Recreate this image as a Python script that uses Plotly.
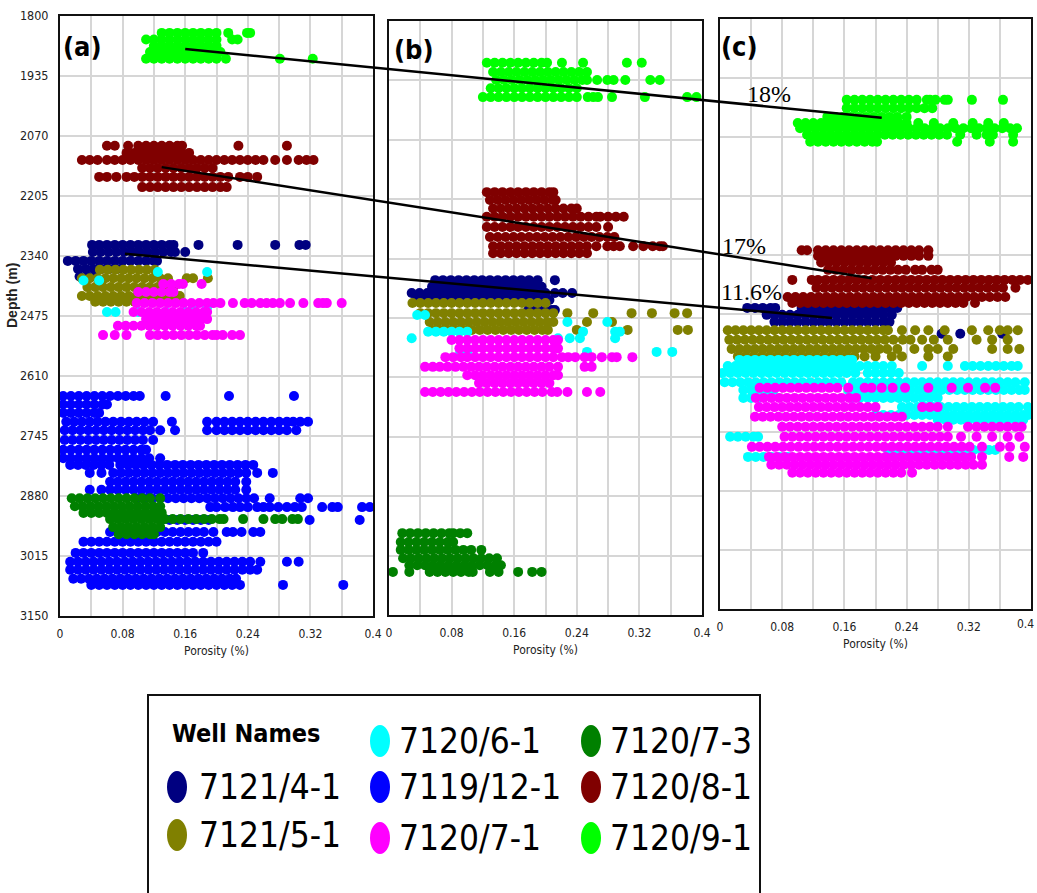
import plotly.graph_objects as go

W, H = 1037, 893

WELLS = ["7121/4-1", "7121/5-1", "7120/6-1", "7119/12-1",
         "7120/7-1", "7120/7-3", "7120/8-1", "7120/9-1"]
COLORS = ["#000080", "#808000", "#00FFFF", "#0000FF",
          "#FF00FF", "#008000", "#800000", "#00FF00"]

X_TICKS = [0, 0.04, 0.08, 0.12, 0.16, 0.2, 0.24, 0.28, 0.32, 0.36, 0.4]
X_TICK_TEXT = ["0", "", "0.08", "", "0.16", "", "0.24", "", "0.32", "", "0.4"]
Y_TICKS = [1800, 1935, 2070, 2205, 2340, 2475, 2610, 2745, 2880, 3015, 3150]

# ---------------- panel (a): rows of (depth, [porosity values]) ----------------
A_41 = [
    (2315, [0.041, 0.05, 0.06, 0.07, 0.08, 0.09, 0.10, 0.11, 0.12, 0.13, 0.14, 0.145, 0.177, 0.227, 0.275, 0.306, 0.314]),
    (2331, [0.042, 0.052, 0.062, 0.072, 0.082, 0.092, 0.102, 0.112, 0.122, 0.132, 0.142, 0.147, 0.16]),
    (2351, [0.01, 0.02, 0.03, 0.04, 0.05, 0.06, 0.07, 0.08, 0.09, 0.10, 0.11, 0.12, 0.124]),
    (2369, [0.023, 0.033, 0.043, 0.053, 0.063, 0.073]),
    (2386, [0.025, 0.035, 0.045]),
]
A_51 = [
    (2371, [0.051, 0.061, 0.071, 0.081, 0.091, 0.101, 0.111, 0.121]),
    (2390, [0.028, 0.038, 0.048, 0.058, 0.068, 0.078, 0.088, 0.098, 0.108, 0.118, 0.128, 0.138, 0.162, 0.17, 0.189]),
    (2410, [0.035, 0.045, 0.055, 0.065, 0.075, 0.085, 0.095, 0.105, 0.115, 0.125, 0.135, 0.145]),
    (2430, [0.028, 0.038, 0.048, 0.058, 0.068, 0.078, 0.088, 0.098, 0.108, 0.118, 0.128, 0.138, 0.148, 0.153]),
    (2443, [0.045, 0.055, 0.065, 0.075, 0.085, 0.095, 0.105, 0.115, 0.125, 0.135, 0.145, 0.155]),
]
A_61 = [
    (2376, [0.125, 0.188]),
    (2395, [0.03, 0.05]),
    (2456, [0.17, 0.188]),
    (2466, [0.06, 0.071, 0.10, 0.135, 0.16]),
]
A_121 = [
    (2655, [0.004, 0.014, 0.024, 0.034, 0.044, 0.054, 0.064, 0.074, 0.084, 0.094, 0.102, 0.135, 0.216, 0.299]),
    (2674, [0.004, 0.014, 0.024, 0.034, 0.044, 0.054, 0.06]),
    (2693, [0.004, 0.014, 0.024, 0.034, 0.044, 0.05]),
    (2713, [0.008, 0.018, 0.028, 0.038, 0.048, 0.058, 0.068, 0.078, 0.088, 0.098, 0.108, 0.119, 0.143, 0.188, 0.2, 0.21, 0.22, 0.23, 0.24, 0.25, 0.26, 0.27, 0.28, 0.29, 0.298, 0.307, 0.317]),
    (2732, [0.006, 0.016, 0.026, 0.036, 0.046, 0.056, 0.066, 0.076, 0.086, 0.096, 0.106, 0.115, 0.128, 0.147, 0.188, 0.2, 0.21, 0.22, 0.23, 0.24, 0.25, 0.26, 0.27, 0.28, 0.29, 0.302]),
    (2754, [0.006, 0.016, 0.026, 0.036, 0.046, 0.056, 0.066, 0.076, 0.086, 0.096, 0.106, 0.119]),
    (2776, [0.004, 0.014, 0.024, 0.034, 0.044, 0.054, 0.064, 0.074, 0.084, 0.094, 0.104, 0.11]),
    (2795, [0.004, 0.014, 0.024, 0.034, 0.044, 0.054, 0.064, 0.074, 0.084, 0.094, 0.104, 0.114, 0.128]),
    (2810, [0.013, 0.023, 0.033, 0.043, 0.053, 0.063, 0.077, 0.087, 0.097, 0.107, 0.117, 0.127, 0.137, 0.147, 0.157, 0.167, 0.177, 0.187, 0.197, 0.207, 0.217, 0.227, 0.237, 0.247]),
    (2828, [0.038, 0.053, 0.068, 0.078, 0.088, 0.098, 0.108, 0.118, 0.128, 0.138, 0.148, 0.158, 0.168, 0.178, 0.188, 0.198, 0.208, 0.218, 0.228, 0.238, 0.252, 0.272]),
    (2848, [0.064, 0.074, 0.084, 0.094, 0.104, 0.114, 0.124, 0.134, 0.144, 0.154, 0.164, 0.174, 0.184, 0.194, 0.204, 0.214, 0.224, 0.238]),
    (2866, [0.038, 0.053, 0.064, 0.074, 0.084, 0.094, 0.104, 0.114, 0.124, 0.134, 0.144, 0.154, 0.164, 0.174, 0.184, 0.194, 0.204, 0.214, 0.224, 0.238]),
    (2885, [0.098, 0.108, 0.118, 0.128, 0.138, 0.148, 0.158, 0.168, 0.178, 0.188, 0.198, 0.208, 0.218, 0.228, 0.238, 0.248, 0.268, 0.307, 0.317]),
    (2905, [0.192, 0.2, 0.211, 0.221, 0.23, 0.24, 0.252, 0.26, 0.268, 0.279, 0.29, 0.3, 0.309, 0.335, 0.348, 0.355, 0.386, 0.396]),
    (2934, [0.13, 0.14, 0.15, 0.16, 0.17, 0.18, 0.19, 0.319, 0.383]),
    (2961, [0.064, 0.074, 0.084, 0.094, 0.104, 0.114, 0.124, 0.134, 0.144, 0.154, 0.164, 0.174, 0.184, 0.196, 0.213, 0.221, 0.232, 0.247, 0.256]),
    (2983, [0.03, 0.04, 0.05, 0.06, 0.07, 0.08, 0.09, 0.10, 0.11, 0.12, 0.13, 0.14, 0.15, 0.16, 0.17, 0.18, 0.19, 0.2]),
    (3008, [0.02, 0.03, 0.04, 0.05, 0.06, 0.07, 0.08, 0.09, 0.10, 0.11, 0.12, 0.13, 0.14, 0.15, 0.16, 0.17, 0.183]),
    (3028, [0.013, 0.023, 0.033, 0.043, 0.053, 0.063, 0.073, 0.083, 0.093, 0.103, 0.113, 0.123, 0.133, 0.143, 0.153, 0.163, 0.173, 0.183, 0.193, 0.203, 0.213, 0.223, 0.233, 0.243, 0.256, 0.29, 0.305]),
    (3046, [0.013, 0.023, 0.033, 0.043, 0.053, 0.063, 0.073, 0.083, 0.093, 0.103, 0.113, 0.123, 0.133, 0.143, 0.153, 0.163, 0.173, 0.183, 0.193, 0.203, 0.213, 0.223, 0.233, 0.243, 0.252]),
    (3066, [0.017, 0.027, 0.037, 0.047, 0.057, 0.067, 0.077, 0.087, 0.097, 0.107, 0.117, 0.127, 0.137, 0.147, 0.157, 0.167, 0.177, 0.187, 0.197, 0.207, 0.217, 0.225]),
    (3080, [0.04, 0.05, 0.06, 0.07, 0.08, 0.09, 0.10, 0.11, 0.12, 0.13, 0.14, 0.15, 0.16, 0.17, 0.18, 0.19, 0.2, 0.21, 0.22, 0.23, 0.285, 0.362]),
]
A_71 = [
    (2403, [0.132, 0.142, 0.152, 0.157, 0.181]),
    (2421, [0.10, 0.11, 0.12, 0.13, 0.14, 0.145]),
    (2446, [0.098, 0.108, 0.118, 0.128, 0.138, 0.148, 0.158, 0.168, 0.178, 0.188, 0.196, 0.205, 0.221, 0.236, 0.245, 0.256, 0.264, 0.272, 0.281, 0.294, 0.311, 0.33, 0.336, 0.341, 0.36]),
    (2466, [0.094, 0.104, 0.114, 0.124, 0.134, 0.144, 0.154, 0.164, 0.174, 0.184, 0.188]),
    (2482, [0.11, 0.12, 0.13, 0.14, 0.15, 0.16, 0.17, 0.18, 0.188]),
    (2497, [0.074, 0.084, 0.094, 0.104, 0.114, 0.124, 0.134, 0.144, 0.154, 0.164, 0.174, 0.179]),
    (2518, [0.055, 0.07, 0.085, 0.115, 0.125, 0.135, 0.145, 0.155, 0.165, 0.175, 0.185, 0.195, 0.2, 0.208, 0.22, 0.23]),
]
A_73 = [
    (2885, [0.015, 0.025, 0.035, 0.045, 0.055, 0.065, 0.075, 0.085, 0.095, 0.105, 0.115, 0.128]),
    (2903, [0.019, 0.029, 0.039, 0.049, 0.059, 0.069, 0.079, 0.089, 0.099, 0.109, 0.119, 0.128]),
    (2918, [0.03, 0.04, 0.05, 0.06, 0.07, 0.08, 0.09, 0.10, 0.11, 0.12, 0.13]),
    (2932, [0.064, 0.074, 0.084, 0.094, 0.104, 0.114, 0.124, 0.134, 0.144, 0.154, 0.164, 0.174, 0.184, 0.194, 0.204, 0.209, 0.234, 0.26, 0.275, 0.284, 0.297, 0.304]),
    (2950, [0.068, 0.078, 0.088, 0.098, 0.108, 0.118, 0.128]),
    (2966, [0.075, 0.085, 0.095, 0.105, 0.115, 0.12]),
]
A_81 = [
    (2092, [0.06, 0.07, 0.087, 0.10, 0.11, 0.12, 0.13, 0.14, 0.15, 0.156, 0.228, 0.29]),
    (2108, [0.085, 0.095, 0.105, 0.115, 0.125, 0.135, 0.145, 0.155, 0.165]),
    (2124, [0.028, 0.038, 0.048, 0.06, 0.07, 0.08, 0.09, 0.10, 0.11, 0.12, 0.13, 0.14, 0.15, 0.16, 0.17, 0.18, 0.19, 0.20, 0.21, 0.22, 0.23, 0.24, 0.25, 0.26, 0.275, 0.29, 0.305, 0.315, 0.324]),
    (2142, [0.105, 0.115, 0.125, 0.135, 0.145, 0.155, 0.165, 0.175, 0.185, 0.195]),
    (2162, [0.05, 0.06, 0.072, 0.085, 0.095, 0.105, 0.115, 0.125, 0.135, 0.145, 0.155, 0.165, 0.175, 0.185, 0.195, 0.205, 0.215, 0.23, 0.24, 0.252]),
    (2185, [0.105, 0.115, 0.125, 0.135, 0.145, 0.155, 0.165, 0.175, 0.185, 0.195, 0.205, 0.213]),
]
A_91 = [
    (1838, [0.13, 0.14, 0.15, 0.16, 0.17, 0.18, 0.19, 0.20, 0.215, 0.239, 0.243]),
    (1853, [0.11, 0.12, 0.13, 0.14, 0.15, 0.16, 0.17, 0.18, 0.19, 0.20, 0.22, 0.227]),
    (1867, [0.12, 0.13, 0.14, 0.15, 0.16, 0.17, 0.18, 0.19, 0.20]),
    (1881, [0.115, 0.125, 0.135, 0.145, 0.155, 0.165, 0.175, 0.185, 0.195, 0.205]),
    (1896, [0.11, 0.12, 0.13, 0.14, 0.15, 0.16, 0.17, 0.18, 0.19, 0.20, 0.212, 0.281, 0.323]),
]

# ---------------- panel (b) ----------------
B_41 = [
    (2389, [0.059, 0.069, 0.079, 0.089, 0.099, 0.109, 0.119, 0.129, 0.139, 0.149, 0.159, 0.169, 0.179, 0.19, 0.212]),
    (2404, [0.055, 0.065, 0.075, 0.085, 0.095, 0.105, 0.115, 0.125, 0.135, 0.145, 0.155, 0.165, 0.175, 0.185, 0.195]),
    (2418, [0.029, 0.039, 0.049, 0.059, 0.069, 0.079, 0.089, 0.099, 0.109, 0.119, 0.129, 0.139, 0.149, 0.159, 0.169, 0.179, 0.189, 0.2, 0.212, 0.222, 0.234]),
    (2434, [0.035, 0.045, 0.055, 0.065, 0.075, 0.085, 0.095, 0.105, 0.115, 0.125, 0.135, 0.145, 0.155, 0.165, 0.175, 0.185, 0.195, 0.205]),
    (2457, [0.178, 0.188, 0.198, 0.208, 0.212]),
]
B_51 = [
    (2441, [0.03, 0.04, 0.05, 0.06, 0.07, 0.08, 0.09, 0.10, 0.11, 0.12, 0.13, 0.14, 0.15, 0.16, 0.17, 0.18, 0.19, 0.2]),
    (2464, [0.04, 0.05, 0.06, 0.07, 0.08, 0.09, 0.10, 0.11, 0.12, 0.13, 0.14, 0.15, 0.16, 0.17, 0.18, 0.19, 0.2, 0.21, 0.228, 0.261, 0.31, 0.336, 0.365, 0.381]),
    (2484, [0.052, 0.062, 0.072, 0.082, 0.092, 0.102, 0.112, 0.122, 0.132, 0.142, 0.152, 0.162, 0.172, 0.182, 0.192, 0.202, 0.21, 0.253, 0.285]),
    (2502, [0.056, 0.066, 0.076, 0.086, 0.096, 0.106, 0.116, 0.126, 0.136, 0.146, 0.156, 0.166, 0.176, 0.186, 0.196, 0.203, 0.24, 0.305, 0.369, 0.382]),
]
B_61 = [
    (2468, [0.036, 0.046]),
    (2484, [0.228, 0.279]),
    (2506, [0.05, 0.06, 0.07, 0.08, 0.09, 0.10, 0.248, 0.289, 0.295]),
    (2521, [0.029, 0.216, 0.231, 0.244, 0.289]),
    (2552, [0.091, 0.10, 0.253, 0.342, 0.362]),
]
B_71 = [
    (2525, [0.08, 0.09, 0.10, 0.11, 0.12, 0.13, 0.14, 0.15, 0.16, 0.17, 0.18, 0.19, 0.20, 0.21, 0.216]),
    (2544, [0.09, 0.10, 0.11, 0.12, 0.13, 0.14, 0.15, 0.16, 0.17, 0.18, 0.19, 0.20, 0.21, 0.216]),
    (2564, [0.072, 0.082, 0.092, 0.10, 0.11, 0.12, 0.13, 0.14, 0.15, 0.16, 0.17, 0.18, 0.19, 0.20, 0.21, 0.221, 0.229, 0.238, 0.25, 0.259, 0.272, 0.285, 0.291, 0.311]),
    (2586, [0.046, 0.056, 0.065, 0.075, 0.085, 0.095, 0.105, 0.115, 0.125, 0.135, 0.145, 0.155, 0.165, 0.175, 0.185, 0.195, 0.205, 0.216, 0.25, 0.259]),
    (2605, [0.10, 0.11, 0.12, 0.13, 0.14, 0.15, 0.16, 0.17, 0.18, 0.19, 0.20, 0.21, 0.216]),
    (2623, [0.115, 0.125, 0.135, 0.145, 0.155, 0.165, 0.175, 0.185, 0.195, 0.205]),
    (2643, [0.046, 0.056, 0.066, 0.076, 0.086, 0.096, 0.106, 0.116, 0.126, 0.136, 0.146, 0.156, 0.166, 0.176, 0.186, 0.196, 0.208, 0.215, 0.228, 0.253, 0.27]),
]
B_73 = [
    (2964, [0.017, 0.027, 0.037, 0.047, 0.057, 0.067, 0.077, 0.082, 0.091, 0.10]),
    (2984, [0.015, 0.025, 0.035, 0.045, 0.055, 0.065, 0.075, 0.082]),
    (3002, [0.015, 0.025, 0.035, 0.045, 0.055, 0.065, 0.075, 0.085, 0.095, 0.105, 0.118]),
    (3021, [0.018, 0.028, 0.038, 0.048, 0.058, 0.068, 0.078, 0.088, 0.098, 0.108, 0.118, 0.128, 0.138]),
    (3037, [0.026, 0.036, 0.046, 0.056, 0.066, 0.076, 0.086, 0.096, 0.106, 0.116, 0.126, 0.136, 0.143]),
    (3052, [0.005, 0.026, 0.052, 0.062, 0.072, 0.082, 0.092, 0.102, 0.107, 0.129, 0.14, 0.165, 0.183, 0.195]),
]
B_81 = [
    (2189, [0.125, 0.135, 0.145, 0.155, 0.165, 0.175, 0.185, 0.195, 0.205, 0.21]),
    (2207, [0.129, 0.139, 0.149, 0.159, 0.169, 0.179, 0.189, 0.199, 0.209, 0.213]),
    (2226, [0.133, 0.143, 0.153, 0.163, 0.173, 0.183, 0.193, 0.203, 0.213, 0.223, 0.233, 0.24]),
    (2245, [0.125, 0.135, 0.145, 0.155, 0.165, 0.175, 0.185, 0.195, 0.205, 0.215, 0.225, 0.235, 0.245, 0.255, 0.265, 0.27, 0.28, 0.29, 0.30]),
    (2268, [0.125, 0.135, 0.145, 0.155, 0.165, 0.175, 0.185, 0.195, 0.205, 0.215, 0.225, 0.235, 0.245, 0.255, 0.265, 0.28]),
    (2291, [0.129, 0.139, 0.149, 0.159, 0.169, 0.179, 0.189, 0.199, 0.209, 0.219, 0.229, 0.239, 0.249, 0.259, 0.269, 0.279, 0.288]),
    (2312, [0.133, 0.143, 0.153, 0.163, 0.173, 0.183, 0.193, 0.203, 0.213, 0.223, 0.233, 0.243, 0.253, 0.265, 0.279, 0.287, 0.295, 0.312, 0.325, 0.337, 0.346, 0.35]),
    (2328, [0.133, 0.143, 0.153, 0.163, 0.173, 0.183, 0.193, 0.203, 0.213, 0.223, 0.233, 0.243, 0.253]),
]
B_91 = [
    (1895, [0.125, 0.135, 0.145, 0.155, 0.165, 0.175, 0.185, 0.195, 0.202, 0.221, 0.248, 0.304, 0.323]),
    (1916, [0.133, 0.143, 0.153, 0.163, 0.173, 0.183, 0.193, 0.203, 0.213, 0.223, 0.233, 0.243, 0.253]),
    (1934, [0.137, 0.147, 0.157, 0.167, 0.177, 0.187, 0.197, 0.207, 0.217, 0.227, 0.237, 0.247, 0.253, 0.266, 0.279, 0.287, 0.302, 0.334, 0.346]),
    (1953, [0.13, 0.14, 0.15, 0.16, 0.17, 0.18, 0.19, 0.2, 0.21, 0.22, 0.23, 0.24]),
    (1973, [0.12, 0.13, 0.14, 0.15, 0.16, 0.17, 0.18, 0.19, 0.2, 0.21, 0.22, 0.23, 0.24, 0.254, 0.261, 0.267, 0.285, 0.327, 0.381, 0.393]),
]

# ---------------- panel (c) ----------------
C_41 = [
    (2461, [0.035, 0.045, 0.055, 0.065, 0.071, 0.105, 0.115, 0.125, 0.135, 0.145, 0.155, 0.165, 0.175, 0.185, 0.195, 0.205, 0.215, 0.221, 0.228]),
    (2477, [0.06, 0.07, 0.08, 0.09, 0.10, 0.11, 0.12, 0.13, 0.14, 0.15, 0.16, 0.17, 0.18, 0.19, 0.20, 0.21, 0.221]),
    (2493, [0.07, 0.08, 0.09, 0.10, 0.11, 0.12, 0.13, 0.14, 0.15, 0.16, 0.17, 0.18, 0.19, 0.20, 0.21, 0.218]),
    (2520, [0.285, 0.309, 0.363]),
]
C_51 = [
    (2512, [0.01, 0.02, 0.03, 0.04, 0.05, 0.06, 0.07, 0.08, 0.09, 0.10, 0.11, 0.12, 0.13, 0.14, 0.15, 0.16, 0.17, 0.18, 0.19, 0.2, 0.21, 0.216, 0.234, 0.251, 0.268, 0.289, 0.324, 0.345, 0.36, 0.37, 0.383]),
    (2534, [0.012, 0.022, 0.032, 0.042, 0.052, 0.062, 0.072, 0.082, 0.092, 0.102, 0.112, 0.122, 0.132, 0.142, 0.152, 0.162, 0.172, 0.182, 0.192, 0.202, 0.212, 0.223, 0.235, 0.245, 0.26, 0.275, 0.293, 0.33, 0.35, 0.37]),
    (2555, [0.015, 0.025, 0.035, 0.045, 0.055, 0.065, 0.075, 0.085, 0.095, 0.105, 0.115, 0.125, 0.135, 0.145, 0.155, 0.165, 0.175, 0.185, 0.195, 0.205, 0.215, 0.228, 0.25, 0.268, 0.28, 0.3, 0.35, 0.37, 0.385]),
    (2572, [0.023, 0.033, 0.043, 0.053, 0.063, 0.073, 0.083, 0.093, 0.103, 0.113, 0.123, 0.133, 0.143, 0.153, 0.163, 0.173, 0.186, 0.2, 0.221, 0.234, 0.268, 0.293]),
]
C_61 = [
    (2580, [0.025, 0.035, 0.045, 0.055, 0.065, 0.075, 0.085, 0.095, 0.105, 0.115, 0.125, 0.135, 0.145, 0.155, 0.165, 0.17]),
    (2594, [0.01, 0.02, 0.03, 0.04, 0.05, 0.06, 0.07, 0.08, 0.09, 0.10, 0.11, 0.12, 0.13, 0.14, 0.15, 0.16, 0.17, 0.18, 0.19, 0.2, 0.21, 0.221, 0.26, 0.293, 0.315, 0.325, 0.335, 0.345, 0.355, 0.365, 0.375, 0.383]),
    (2610, [0.003, 0.013, 0.023, 0.033, 0.043, 0.053, 0.063, 0.073, 0.083, 0.093, 0.103, 0.113, 0.123, 0.133, 0.143, 0.153, 0.163, 0.174, 0.19, 0.2, 0.21, 0.22, 0.23]),
    (2631, [0.006, 0.016, 0.026, 0.036, 0.046, 0.056, 0.066, 0.076, 0.086, 0.096, 0.106, 0.116, 0.126, 0.136, 0.146, 0.156, 0.171, 0.18, 0.19, 0.2, 0.21, 0.22, 0.23, 0.24, 0.25, 0.26, 0.27, 0.28, 0.29, 0.3, 0.31, 0.32, 0.33, 0.34, 0.35, 0.36, 0.37, 0.38, 0.392]),
    (2649, [0.03, 0.04, 0.05, 0.06, 0.069, 0.165, 0.175, 0.185, 0.195, 0.205, 0.215, 0.225, 0.235, 0.245, 0.255, 0.265, 0.275, 0.285, 0.295, 0.305, 0.315, 0.325, 0.335, 0.345, 0.355, 0.365, 0.375, 0.385, 0.392]),
    (2667, [0.03, 0.04, 0.05, 0.17, 0.18, 0.19, 0.2, 0.21, 0.22, 0.23, 0.24, 0.25, 0.26, 0.27, 0.28]),
    (2688, [0.234, 0.244, 0.254, 0.264, 0.274, 0.284, 0.294, 0.304, 0.314, 0.324, 0.334, 0.344, 0.354, 0.364, 0.374, 0.384, 0.396]),
    (2706, [0.2, 0.21, 0.22, 0.23, 0.24, 0.25, 0.26, 0.27, 0.28, 0.29, 0.3, 0.31, 0.32, 0.33, 0.34, 0.35, 0.36, 0.37, 0.38, 0.39, 0.396]),
    (2717, [0.28, 0.29, 0.3, 0.31, 0.32, 0.33, 0.34, 0.35, 0.36, 0.37, 0.38, 0.39]),
    (2756, [0.013, 0.023, 0.033, 0.043, 0.049]),
    (2786, [0.216, 0.226, 0.236, 0.246, 0.256, 0.266, 0.276, 0.286, 0.296, 0.306, 0.316, 0.326, 0.336, 0.346, 0.354]),
    (2802, [0.036, 0.046, 0.056, 0.066, 0.076, 0.087]),
]
C_71 = [
    (2644, [0.051, 0.061, 0.071, 0.081, 0.091, 0.101, 0.111, 0.121, 0.131, 0.141, 0.151, 0.165, 0.186, 0.195, 0.208, 0.222, 0.238, 0.268, 0.298, 0.319, 0.341, 0.354]),
    (2667, [0.046, 0.056, 0.066, 0.076, 0.086, 0.096, 0.106, 0.116, 0.126, 0.136, 0.146, 0.156, 0.166, 0.175]),
    (2688, [0.05, 0.06, 0.07, 0.08, 0.09, 0.10, 0.11, 0.12, 0.13, 0.14, 0.15, 0.16, 0.17, 0.18, 0.19, 0.2, 0.26, 0.27, 0.28]),
    (2710, [0.045, 0.055, 0.065, 0.075, 0.085, 0.095, 0.105, 0.115, 0.125, 0.135, 0.145, 0.155, 0.165, 0.175, 0.185, 0.195, 0.205, 0.215, 0.225, 0.234]),
    (2733, [0.08, 0.09, 0.10, 0.11, 0.12, 0.13, 0.14, 0.15, 0.16, 0.17, 0.18, 0.19, 0.2, 0.21, 0.22, 0.23, 0.24, 0.25, 0.26, 0.27, 0.28, 0.293, 0.319, 0.33, 0.34, 0.35, 0.36, 0.37, 0.38, 0.388]),
    (2756, [0.083, 0.093, 0.103, 0.113, 0.123, 0.133, 0.143, 0.153, 0.163, 0.173, 0.183, 0.193, 0.203, 0.213, 0.223, 0.233, 0.243, 0.253, 0.263, 0.273, 0.283, 0.293, 0.31, 0.33, 0.35, 0.37, 0.385]),
    (2779, [0.041, 0.051, 0.061, 0.071, 0.081, 0.091, 0.101, 0.111, 0.121, 0.131, 0.141, 0.151, 0.161, 0.171, 0.181, 0.191, 0.201, 0.211, 0.221, 0.231, 0.241, 0.251, 0.261, 0.271, 0.281, 0.291, 0.301, 0.311, 0.321, 0.337, 0.36, 0.373, 0.392]),
    (2802, [0.063, 0.073, 0.083, 0.093, 0.103, 0.113, 0.123, 0.133, 0.143, 0.153, 0.163, 0.173, 0.183, 0.193, 0.203, 0.213, 0.223, 0.233, 0.243, 0.253, 0.263, 0.273, 0.283, 0.293, 0.303, 0.313, 0.323, 0.337, 0.372, 0.39]),
    (2820, [0.066, 0.076, 0.086, 0.096, 0.106, 0.116, 0.126, 0.136, 0.146, 0.156, 0.166, 0.176, 0.186, 0.196, 0.206, 0.216, 0.226, 0.236, 0.246, 0.256, 0.266, 0.276, 0.286, 0.296, 0.306, 0.316, 0.326, 0.337]),
    (2838, [0.093, 0.103, 0.113, 0.123, 0.133, 0.143, 0.153, 0.163, 0.173, 0.183, 0.193, 0.203, 0.213, 0.223, 0.233, 0.247]),
]
C_81 = [
    (2329, [0.105, 0.112, 0.126, 0.136, 0.146, 0.156, 0.166, 0.176, 0.186, 0.196, 0.206, 0.216, 0.226, 0.236, 0.246, 0.256, 0.268]),
    (2342, [0.126, 0.136, 0.146, 0.156, 0.166, 0.176, 0.186, 0.196, 0.206, 0.216, 0.226, 0.236, 0.246, 0.256, 0.268]),
    (2357, [0.13, 0.14, 0.15, 0.16, 0.17, 0.18, 0.19, 0.2, 0.21, 0.22]),
    (2374, [0.139, 0.149, 0.159, 0.169, 0.179, 0.189, 0.199, 0.209, 0.219, 0.229, 0.239, 0.251, 0.26, 0.272, 0.28]),
    (2397, [0.093, 0.118, 0.126, 0.136, 0.146, 0.156, 0.166, 0.176, 0.186, 0.196, 0.206, 0.216, 0.226, 0.236, 0.246, 0.256, 0.266, 0.276, 0.286, 0.296, 0.306, 0.316, 0.326, 0.336, 0.346, 0.356, 0.366, 0.376, 0.386, 0.396]),
    (2415, [0.124, 0.134, 0.144, 0.154, 0.164, 0.174, 0.184, 0.194, 0.204, 0.214, 0.224, 0.234, 0.244, 0.254, 0.264, 0.274, 0.284, 0.294, 0.304, 0.314, 0.324, 0.334, 0.344, 0.354, 0.364, 0.38]),
    (2436, [0.087, 0.097, 0.107, 0.117, 0.127, 0.137, 0.147, 0.157, 0.167, 0.177, 0.187, 0.197, 0.207, 0.217, 0.227, 0.237, 0.247, 0.257, 0.267, 0.277, 0.287, 0.297, 0.307, 0.317, 0.327, 0.337, 0.347, 0.357, 0.367]),
    (2450, [0.093, 0.103, 0.113, 0.123, 0.133, 0.143, 0.153, 0.163, 0.173, 0.183, 0.193, 0.203, 0.213, 0.223, 0.233, 0.243, 0.253, 0.263, 0.273, 0.283, 0.293, 0.303, 0.313, 0.328]),
]
C_91 = [
    (1985, [0.163, 0.173, 0.183, 0.193, 0.203, 0.213, 0.223, 0.233, 0.243, 0.253, 0.266, 0.27, 0.277, 0.289, 0.293, 0.324, 0.364]),
    (2004, [0.163, 0.173, 0.183, 0.193, 0.203, 0.213, 0.223, 0.233, 0.243, 0.253, 0.263, 0.273]),
    (2024, [0.138, 0.148, 0.158, 0.168, 0.178, 0.188, 0.198, 0.208, 0.218, 0.228, 0.24]),
    (2038, [0.10, 0.11, 0.12, 0.13, 0.14, 0.15, 0.16, 0.17, 0.18, 0.19, 0.20, 0.21, 0.22, 0.23, 0.24, 0.255, 0.275, 0.30, 0.325, 0.345, 0.365]),
    (2050, [0.103, 0.113, 0.123, 0.133, 0.143, 0.153, 0.163, 0.173, 0.183, 0.193, 0.203, 0.213, 0.223, 0.233, 0.243, 0.253, 0.263, 0.273, 0.283, 0.293, 0.303, 0.313, 0.323, 0.333, 0.343, 0.353, 0.363, 0.373, 0.382]),
    (2065, [0.112, 0.122, 0.132, 0.142, 0.152, 0.162, 0.172, 0.182, 0.192, 0.202, 0.212, 0.222, 0.232, 0.242, 0.252, 0.262, 0.272, 0.282, 0.292, 0.309, 0.33, 0.343, 0.351, 0.377]),
    (2081, [0.116, 0.126, 0.136, 0.146, 0.156, 0.166, 0.176, 0.186, 0.196, 0.202, 0.305, 0.347, 0.377]),
]

PANEL_A = [A_41, A_51, A_61, A_121, A_71, A_73, A_81, A_91]
PANEL_B = [B_41, B_51, B_61, [], B_71, B_73, B_81, B_91]
PANEL_C = [C_41, C_51, C_61, [], C_71, [], C_81, C_91]
PANEL_LABELS = ["(a)", "(b)", "(c)"]

# connector lines (panel a point -> panel c point) and their labels
CONNECT_START = [(0.16, 1874), (0.13, 2140), (0.083, 2335)]
CONNECT_END = [(0.208, 2026), (0.195, 2393), (0.144, 2484)]
CONNECT_LABELS = ["18%", "17%", "11.6%"]

# ---------------- layout geometry (pixels) ----------------
PLOT_X_PX = [(60, 373), (389, 702), (720, 1031)]
PLOT_Y_PX = [(16, 616), (21, 615), (19, 609)]
PANEL_LABEL_PX = [(82, 47), (414, 50), (739, 47)]
CONNECT_LABEL_PX = [(769, 94), (744, 246), (751, 292)]

COND = "DejaVu Sans Condensed, Liberation Sans Narrow, Arial Narrow, sans-serif"


def px2x(p):
    return p / W


def px2y(p):
    return 1 - p / H


def to_paper(i, x, d):
    (x0, x1), (y0, y1) = PLOT_X_PX[i], PLOT_Y_PX[i]
    px = x0 + (x - 0) / 0.4 * (x1 - x0)
    py = y0 + (d - 1800) / 1350 * (y1 - y0)
    return px2x(px), px2y(py)


def expand(rows):
    xs, ys = [], []
    for d, vals in rows:
        for v in vals:
            xs.append(v)
            ys.append(d)
    return xs, ys


def note(px, py, text, font, **kw):
    d = dict(x=px2x(px), y=px2y(py), xref="paper", yref="paper", text=text,
             showarrow=False, xanchor="center", yanchor="middle", font=font)
    d.update(kw)
    return d


fig = go.Figure()
TICK_FONT = dict(family=COND, size=12, color="#222")

for i, panel in enumerate([PANEL_A, PANEL_B, PANEL_C]):
    sfx = "" if i == 0 else str(i + 1)
    for w, rows in enumerate(panel):
        if not rows:
            continue
        xs, ys = expand(rows)
        fig.add_trace(go.Scatter(
            x=xs, y=ys, mode="markers", name=WELLS[w], showlegend=False,
            xaxis="x" + sfx, yaxis="y" + sfx,
            marker=dict(color=COLORS[w], size=10, line=dict(width=0)),
        ))
    (x0, x1), (y0, y1) = PLOT_X_PX[i], PLOT_Y_PX[i]
    # last panel: the "0.4" label sits at the page edge, placed separately below
    ttext = X_TICK_TEXT if i < 2 else X_TICK_TEXT[:-1] + [""]
    fig.update_layout({
        "xaxis" + sfx: dict(
            domain=[px2x(x0), px2x(x1)], anchor="y" + sfx, range=[0, 0.4],
            tickvals=X_TICKS, ticktext=ttext, showgrid=True,
            gridcolor="#d6d6d6", gridwidth=1.5, zeroline=False,
            showline=True, mirror=True, linecolor="#111", linewidth=2,
            ticks="", ticklabelstandoff=6, automargin=False,
            tickfont=TICK_FONT,
            title=dict(text="Porosity (%)", standoff=6,
                       font=dict(family=COND, size=12, color="#222")),
        ),
        "yaxis" + sfx: dict(
            domain=[px2y(y1), px2y(y0)], anchor="x" + sfx, range=[3150, 1800],
            tickvals=Y_TICKS, showticklabels=(i == 0), showgrid=True,
            gridcolor="#d6d6d6", gridwidth=1.5, zeroline=False,
            showline=True, mirror=True, linecolor="#111", linewidth=2,
            ticks="", ticklabelstandoff=7, automargin=False,
            tickfont=dict(family=COND, size=12.5, color="#222"),
        ),
    })

annotations = []
shapes = []

# "0.4" label at the right edge of panel (c), kept inside the page
annotations.append(dict(x=X_TICKS[-1], xref="x3", y=0, yref="y3 domain",
                        text=X_TICK_TEXT[-1], showarrow=False,
                        xanchor="right", yanchor="top", xshift=5, yshift=-6,
                        font=TICK_FONT))

for (lx, ly), txt in zip(PANEL_LABEL_PX, PANEL_LABELS):
    annotations.append(note(lx, ly, "<b>" + txt + "</b>",
                            dict(family=COND, size=27, color="#000")))

annotations.append(note(12, 296, "<b>Depth (m)</b>",
                        dict(family="Liberation Sans, Arial, sans-serif", size=14, color="#222"),
                        textangle=-90))

for (sx, sd), (ex, ed) in zip(CONNECT_START, CONNECT_END):
    p0 = to_paper(0, sx, sd)
    p1 = to_paper(2, ex, ed)
    shapes.append(dict(type="line", xref="paper", yref="paper",
                       x0=p0[0], y0=p0[1], x1=p1[0], y1=p1[1],
                       line=dict(color="#000", width=2.5)))

for (lx, ly), txt in zip(CONNECT_LABEL_PX, CONNECT_LABELS):
    annotations.append(note(lx, ly, txt,
                            dict(family="Liberation Serif, Times New Roman, serif", size=24, color="#000")))

# ---------------- custom legend box ----------------
shapes.append(dict(type="rect", xref="paper", yref="paper",
                   x0=px2x(148), x1=px2x(760), y0=px2y(910), y1=px2y(695),
                   line=dict(color="#111", width=2), fillcolor="rgba(0,0,0,0)"))

annotations.append(note(170, 733, "<b>Well Names</b>",
                        dict(family=COND, size=25, color="#000"), xanchor="left"))

LEGEND_SLOTS = [(0, 1), (0, 2), (1, 0), (1, 1), (1, 2), (2, 0), (2, 1), (2, 2)]
LEG_MARK_X = [177, 380, 591]
LEG_TEXT_X = [197, 397, 608]
LEG_ROW_Y = [[733, 787, 835], [741, 787, 838], [741, 787, 838]]

for w, (c, r) in enumerate(LEGEND_SLOTS):
    mx, my = LEG_MARK_X[c], LEG_ROW_Y[c][r]
    shapes.append(dict(type="circle", xref="paper", yref="paper",
                       x0=px2x(mx - 10), x1=px2x(mx + 10),
                       y0=px2y(my + 16), y1=px2y(my - 16),
                       fillcolor=COLORS[w], line=dict(width=0)))
    annotations.append(note(LEG_TEXT_X[c], my, WELLS[w],
                            dict(family=COND, size=35, color="#000"), xanchor="left"))

fig.update_layout(
    width=W, height=H, autosize=False,
    margin=dict(l=0, r=0, t=0, b=0, autoexpand=False),
    paper_bgcolor="#fff", plot_bgcolor="#fff",
    showlegend=False,
    annotations=annotations, shapes=shapes,
)

fig.write_html("out.html")
